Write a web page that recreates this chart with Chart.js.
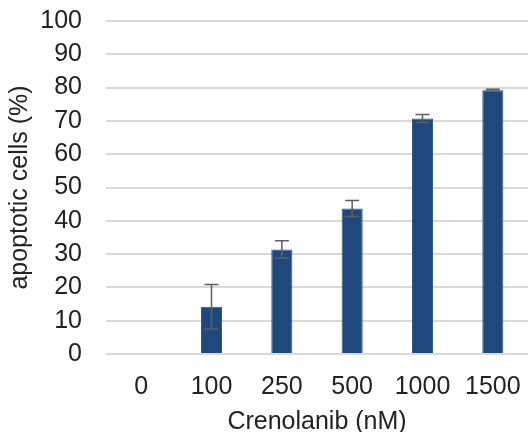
<!DOCTYPE html>
<html><head><meta charset="utf-8">
<script src="https://cdn.jsdelivr.net/npm/chart.js@4.4.1/dist/chart.umd.min.js"></script>
<style>html,body{margin:0;padding:0;background:#fff}#wrap{width:528px;height:432px}</style>
</head><body><div id="wrap"><canvas id="c" width="528" height="432"></canvas></div>
<script>
const categories = ['0','100','250','500','1000','1500'];
const values = [0, 14.2, 31.4, 43.7, 70.7, 79.2];
const errors = [0, 6.7, 2.6, 2.4, 1.2, 0.3];
const yTicks = [0,10,20,30,40,50,60,70,80,90,100];

const errorBarPlugin = {
  id: 'errbars',
  afterDatasetsDraw(chart) {
    const ctx = chart.ctx, x = chart.scales.x, y = chart.scales.y;
    ctx.save();
    ctx.strokeStyle = '#5f5f5f';
    ctx.lineWidth = 1.5;
    values.forEach((v, i) => {
      const e = errors[i];
      if (!e) return;
      const cx = x.getPixelForValue(i);
      const yt = y.getPixelForValue(v + e), yb = y.getPixelForValue(v - e);
      ctx.beginPath();
      ctx.moveTo(cx, yt); ctx.lineTo(cx, yb);
      ctx.moveTo(cx - 7, yt); ctx.lineTo(cx + 7, yt);
      ctx.moveTo(cx - 7, yb); ctx.lineTo(cx + 7, yb);
      ctx.stroke();
    });
    ctx.restore();
  }
};

const FONT = 'Liberation Sans, Arial, sans-serif';
new Chart(document.getElementById('c'), {
  type: 'bar',
  data: { labels: categories, datasets: [{ data: values, backgroundColor: '#1f497d', borderColor: '#2a5487', borderWidth: 1, barPercentage: 0.3, categoryPercentage: 1 }] },
  options: {
    responsive: false, animation: false,
    layout: { padding: { top: 21, right: 0, bottom: 0, left: 8 } },
    plugins: { legend: { display: false }, tooltip: { enabled: false } },
    scales: {
      x: {
        afterFit(s) { s.height = 78; s.paddingLeft = 0; s.paddingRight = 0; },
        grid: { display: false, drawTicks: false },
        border: { display: false },
        ticks: { color: '#222', font: { family: FONT, size: 25 }, padding: 18 },
        title: { display: true, text: 'Crenolanib (nM)', color: '#222', font: { family: FONT, size: 25, lineHeight: 1 }, padding: { top: 0, bottom: -3 } }
      },
      y: {
        min: 0, max: 100,
        afterBuildTicks(s) { s.ticks = yTicks.map(v => ({ value: v })); },
        afterFit(s) { s.width = 98; s.paddingTop = 0; s.paddingBottom = 0; },
        grid: { color: '#d9d9d9', lineWidth: 2, drawTicks: false },
        border: { display: false },
        ticks: { color: '#222', font: { family: FONT, size: 25 }, padding: 24 },
        title: { display: true, text: 'apoptotic cells (%)', color: '#222', font: { family: FONT, size: 25, lineHeight: 1 }, padding: { top: 0, bottom: 0 } }
      }
    }
  },
  plugins: [errorBarPlugin]
});
</script></body></html>
